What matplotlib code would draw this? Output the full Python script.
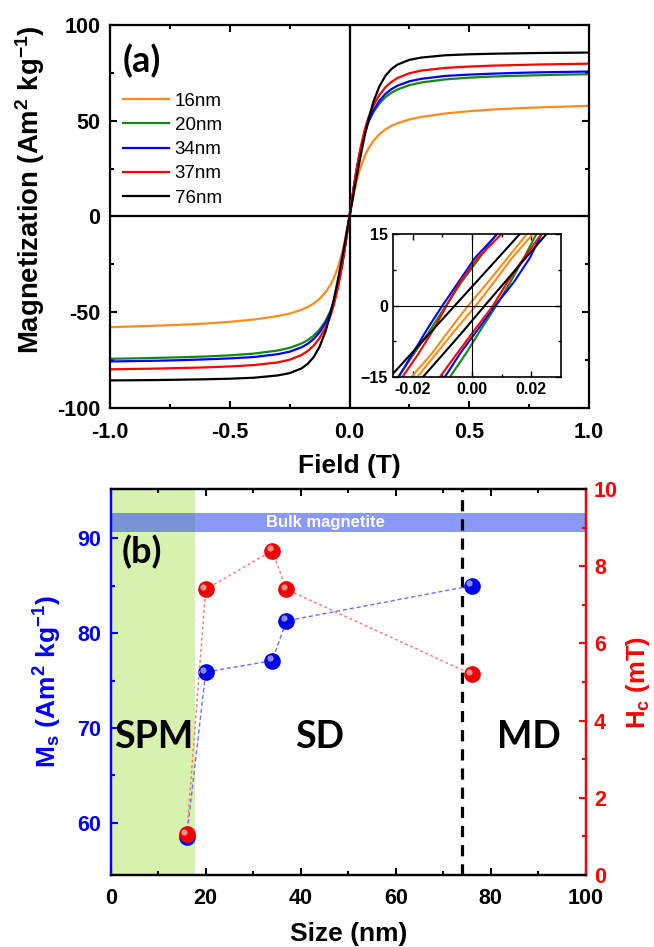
import numpy as np
import matplotlib
matplotlib.use('Agg')
from matplotlib import pyplot as plt
from matplotlib import transforms

plt.rcParams['font.family'] = ['Liberation Sans', 'DejaVu Sans']
plt.rcParams['font.weight'] = 'bold'
plt.rcParams['axes.labelweight'] = 'bold'
plt.rcParams['mathtext.fontset'] = 'custom'
plt.rcParams['mathtext.rm'] = 'Liberation Sans:bold'
plt.rcParams['mathtext.bf'] = 'Liberation Sans:bold'
plt.rcParams['mathtext.it'] = 'Liberation Sans:bold'

# ---- panel (a): M(H) curves, positive half (curves are odd in H) ----
sizes = ['16nm', '20nm', '34nm', '37nm', '76nm']
colors = ['#ff8c1a', '#108a10', '#0000ff', '#ff0000', '#000000']

field_pos = [0, 0.01, 0.02, 0.03, 0.04, 0.05, 0.065, 0.08, 0.1, 0.125, 0.15,
             0.175, 0.2, 0.25, 0.3, 0.4, 0.5, 0.6, 0.7, 0.8, 0.9, 1.0]
m_16 = [0, 6.5, 13, 18.5, 23, 27, 32, 35.8, 39.5, 43, 45.5,
        47.3, 48.7, 50.7, 52, 53.8, 55, 55.9, 56.5, 57, 57.4, 57.8]
m_20 = [0, 8.5, 17, 24.5, 31, 37, 44, 49.5, 54.5, 59, 62.3,
        64.6, 66.3, 68.6, 70, 71.6, 72.5, 73.1, 73.5, 73.8, 74.1, 74.3]
m_34 = [0, 8.5, 17, 24.5, 31, 37, 44.5, 50, 55.5, 60.5, 64,
        66.5, 68.3, 70.6, 71.9, 73.4, 74.1, 74.6, 75, 75.3, 75.5, 75.7]
m_37 = [0, 8.5, 17, 25, 32, 38, 46, 52, 58, 63.5, 67.5,
        70.3, 72.3, 74.8, 76.2, 77.6, 78.3, 78.8, 79.1, 79.4, 79.6, 79.8]
m_76 = [0, 7, 14, 21, 27.5, 34, 43, 51, 60, 68, 73.5,
        77, 79.3, 81.8, 83, 84.2, 84.7, 85, 85.2, 85.4, 85.5, 85.6]
m_curves = [m_16, m_20, m_34, m_37, m_76]

# ---- inset: loop branches, field (T) at these magnetization levels ----
loop_m = [-20, -15, -10, -5, 0, 5, 10, 15, 20]
up_16 = [-0.027, -0.0205, -0.0135, -0.0075, -0.0013, 0.0055, 0.012, 0.0185, 0.025]
lo_16 = [-0.025, -0.0185, -0.012, -0.0055, 0.0013, 0.0075, 0.0135, 0.0205, 0.027]
up_20 = [-0.031, -0.025, -0.0195, -0.014, -0.0088, -0.0035, 0.0025, 0.0082, 0.014]
lo_20 = [-0.014, -0.0075, -0.002, 0.003, 0.0082, 0.013, 0.0175, 0.0217, 0.026]
up_34 = [-0.030, -0.0248, -0.020, -0.0152, -0.0100, -0.0045, 0.001, 0.0085, 0.014]
lo_34 = [-0.0145, -0.0092, -0.004, 0.002, 0.0078, 0.0142, 0.0195, 0.0235, 0.028]
up_37 = [-0.029, -0.0235, -0.018, -0.013, -0.0086, -0.004, 0.002, 0.0099, 0.015]
lo_37 = [-0.016, -0.0109, -0.005, 0.001, 0.0071, 0.012, 0.0175, 0.0234, 0.029]
up_76 = [-0.035, -0.0277, -0.0204, -0.0131, -0.0058, 0.0015, 0.0088, 0.0161, 0.0234]
lo_76 = [-0.0239, -0.0166, -0.0095, -0.0025, 0.0043, 0.0112, 0.0181, 0.0251, 0.032]
branches_up = [up_16, up_20, up_34, up_37, up_76]
branches_lo = [lo_16, lo_20, lo_34, lo_37, lo_76]

# ---- panel (b): saturation magnetization and coercivity vs size ----
size_nm = [16, 20, 34, 37, 76]
ms_vals = [58.5, 75.9, 77.1, 81.3, 85.0]
hc_vals = [1.05, 7.4, 8.4, 7.4, 5.2]

W, H = 654, 947
fig = plt.figure(figsize=(W / 100, H / 100), dpi=100)


def bold_ticks(ax):
    for t in ax.get_xticklabels() + ax.get_yticklabels():
        t.set_fontweight('bold')


# ================= (a) =================
axa = fig.add_axes([110 / W, 1 - 408 / H, 479 / W, 383 / H])
fp = np.array(field_pos)
for lab, col, mc in zip(sizes, colors, m_curves):
    mc = np.array(mc)
    hx = np.concatenate((-fp[::-1], fp[1:]))
    my = np.concatenate((-mc[::-1], mc[1:]))
    axa.plot(hx, my, color=col, lw=1.6, label=lab)
axa.axhline(0, color='k', lw=1.6, zorder=1)
axa.axvline(0, color='k', lw=1.6, zorder=1)
axa.set_xlim(-1, 1)
axa.set_ylim(-100, 100)
axa.set_xticks([-1.0, -0.5, 0.0, 0.5, 1.0])
axa.set_xticklabels(['-1.0', '-0.5', '0.0', '0.5', '1.0'])
axa.set_yticks([-100, -50, 0, 50, 100])
axa.set_yticklabels(['-100', '-50', '0', '50', '100'])
axa.set_xticks(np.arange(-1, 1.01, 0.25), minor=True)
axa.set_yticks(np.arange(-100, 101, 25), minor=True)
axa.tick_params(which='both', direction='in', top=True, right=True, width=1.5,
                labelsize=15.5)
axa.tick_params(axis='x', which='major', pad=10)
axa.tick_params(axis='y', which='major', pad=7)
axa.tick_params(which='major', length=5)
axa.tick_params(which='minor', length=3)
bold_ticks(axa)
for s in axa.spines.values():
    s.set_linewidth(1.6)
axa.set_xlabel('Field (T)', fontsize=19, fontweight='bold', labelpad=8)
axa.set_ylabel('Magnetization (Am$^{2}$ kg$^{-1}$)', fontsize=19.8,
               fontweight='bold', labelpad=7)
axa.yaxis.label.set_y(0.569)
axa.text(0.027, 0.905, '(a)', transform=axa.transAxes, fontsize=26,
         family='Lato', weight='bold', va='center')
leg = axa.legend(loc='upper left', bbox_to_anchor=(0.0, 0.858), frameon=False,
                 prop={'size': 13.5, 'weight': 'normal'}, handlelength=2.45,
                 handletextpad=0.3, labelspacing=0.38, borderaxespad=0.3)

# inset
axi = fig.add_axes([393 / W, 1 - 377 / H, 168 / W, 143 / H])
for col, hu, hl in zip(colors, branches_up, branches_lo):
    axi.plot(hu, loop_m, color=col, lw=1.5)
    axi.plot(hl, loop_m, color=col, lw=1.5)
axi.axhline(0, color='k', lw=0.8)
axi.axvline(0, color='k', lw=0.8)
axi.set_xlim(-0.0267, 0.03)
axi.set_ylim(-15, 15)
axi.set_xticks([-0.02, 0.0, 0.02])
axi.set_xticklabels(['-0.02', '0.00', '0.02'])
axi.set_yticks([-15, 0, 15])
axi.set_xticks([-0.01, 0.01], minor=True)
axi.set_yticks([-7.5, 7.5], minor=True)
axi.tick_params(which='both', direction='in', top=True, right=True, width=1,
                labelsize=11.5)
axi.tick_params(which='major', length=4)
axi.tick_params(which='minor', length=2)
bold_ticks(axi)
for s in axi.spines.values():
    s.set_linewidth(1.2)

# ================= (b) =================
axb = fig.add_axes([110.7 / W, 1 - 875 / H, 475 / W, 386 / H])
axb.axvspan(0, 17.7, color='#d7f1ae', lw=0, zorder=0)
axb.axhspan(90.7, 92.7, color=(60 / 255, 85 / 255, 240 / 255), alpha=0.6,
            lw=0, zorder=1)
axb.text(45.3, 91.7, 'Bulk magnetite', color='white', fontsize=12,
         fontweight='bold', ha='center', va='center', zorder=2)
axb.axvline(74, color='k', lw=2.3, ls=(0, (3.5, 2.5)), zorder=2)
axb.plot(size_nm, ms_vals, color='#6f6fff', lw=1, ls=(0, (3, 2)), zorder=3)
axb.plot(size_nm, ms_vals, 'o', color='#0000f0', ms=12, mec='none', zorder=4)
hl = transforms.offset_copy(axb.transData, fig=fig, x=-1.6, y=1.8, units='points')
axb.plot(size_nm, ms_vals, 'o', color='white', alpha=0.55, ms=4.5, mec='none',
         transform=hl, zorder=5)
axb.set_xlim(0, 100)
axb.set_ylim(54.5, 95.2)
axb.set_xticks(np.arange(0, 101, 20))
axb.set_xticks(np.arange(10, 100, 20), minor=True)
axb.set_yticks([60, 70, 80, 90])
axb.set_yticks([65, 75, 85], minor=True)
axb.tick_params(which='both', direction='in', top=True, width=1.5, labelsize=15.5)
axb.tick_params(axis='x', which='major', pad=9)
axb.tick_params(axis='y', which='major', pad=7)
axb.tick_params(axis='y', which='both', colors='#0000ff', labelcolor='#0000ff')
axb.tick_params(which='major', length=5)
axb.tick_params(which='minor', length=3)
bold_ticks(axb)
for s in axb.spines.values():
    s.set_linewidth(1.6)
axb.spines['left'].set_color('#0000ff')
axb.set_xlabel('Size (nm)', fontsize=19, fontweight='bold', labelpad=10)
axb.set_ylabel('M$_{s}$ (Am$^{2}$ kg$^{-1}$)', fontsize=19, fontweight='bold',
               color='#0000ff', labelpad=9)
axb.text(0.022, 0.838, '(b)', transform=axb.transAxes, fontsize=26,
         family='Lato', weight='bold', va='center')
for tx, lbl in [(9, 'SPM'), (44, 'SD'), (88, 'MD')]:
    axb.text(tx, 69, lbl, fontsize=27, family='Lato', weight='bold',
             ha='center', va='center', zorder=2)

ax2 = axb.twinx()
ax2.plot(size_nm, hc_vals, color='#ff6f6f', lw=1, ls=(0, (2, 2)), zorder=3)
ax2.plot(size_nm, hc_vals, 'o', color='#f00000', ms=12, mec='none', zorder=4)
hl2 = transforms.offset_copy(ax2.transData, fig=fig, x=-1.6, y=1.8, units='points')
ax2.plot(size_nm, hc_vals, 'o', color='white', alpha=0.55, ms=4.5, mec='none',
         transform=hl2, zorder=5)
ax2.set_ylim(0, 10)
ax2.set_yticks([0, 2, 4, 6, 8, 10])
ax2.set_yticks([1, 3, 5, 7, 9], minor=True)
ax2.tick_params(which='both', direction='in', width=1.5, labelsize=15.5,
                colors='#ff0000', labelcolor='#ff0000')
ax2.tick_params(which='major', length=5, pad=6)
ax2.tick_params(which='minor', length=3)
bold_ticks(ax2)
for s in ax2.spines.values():
    s.set_linewidth(1.6)
ax2.spines['right'].set_color('#ff0000')
ax2.spines['left'].set_color('#0000ff')
ax2.set_ylabel('H$_{c}$ (mT)', fontsize=18.5, fontweight='bold', color='#ff0000',
               labelpad=4)

fig.savefig('out.png', dpi=100)
